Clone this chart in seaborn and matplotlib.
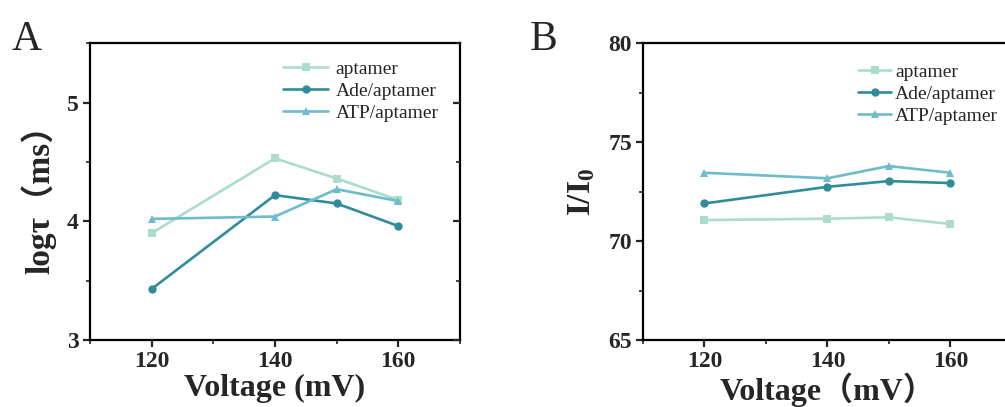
import pandas as pd
import seaborn as sns
import matplotlib.pyplot as plt
from matplotlib.ticker import MultipleLocator

voltage = [120, 140, 150, 160]
samples = ["aptamer", "Ade/aptamer", "ATP/aptamer"]

# panel A: log(dwell time)
logtau_aptamer = [3.90, 4.53, 4.36, 4.18]
logtau_ade = [3.43, 4.22, 4.15, 3.96]
logtau_atp = [4.02, 4.04, 4.27, 4.17]

# panel B: I/I0
ratio_aptamer = [71.06, 71.13, 71.20, 70.86]
ratio_ade = [71.90, 72.74, 73.03, 72.93]
ratio_atp = [73.45, 73.17, 73.79, 73.45]

colors = ["#acdccb", "#2f8c9b", "#6cbccb"]
markers = ["s", "o", "^"]

def long_df(a, b, c):
    rows = []
    for name, vals in zip(samples, [a, b, c]):
        for v, y in zip(voltage, vals):
            rows.append({"Voltage": v, "value": y, "sample": name})
    return pd.DataFrame(rows)

df_a = long_df(logtau_aptamer, logtau_ade, logtau_atp)
df_b = long_df(ratio_aptamer, ratio_ade, ratio_atp)

sns.set_style("ticks")
plt.rcParams["font.family"] = ["Liberation Serif", "Noto Sans CJK SC"]
plt.rcParams["mathtext.fontset"] = "custom"
plt.rcParams["mathtext.rm"] = "Liberation Serif"
plt.rcParams["mathtext.bf"] = "Liberation Serif:bold"

fig = plt.figure(figsize=(10.05, 4.07), dpi=100)
ax1 = fig.add_axes([0.0896, 0.1646, 0.368, 0.7294])
ax2 = fig.add_axes([0.6398, 0.1646, 0.367, 0.7294])

legend_opts = {
    ax1: dict(bbox_to_anchor=(0.99, 1.0), handlelength=2.3, handletextpad=0.4),
    ax2: dict(bbox_to_anchor=(1.01, 0.99), handlelength=1.7, handletextpad=0.2),
}

for ax, df in [(ax1, df_a), (ax2, df_b)]:
    sns.lineplot(data=df, x="Voltage", y="value", hue="sample", style="sample",
                 markers=markers, dashes=False, palette=colors, ax=ax,
                 linewidth=1.9, markersize=6, markeredgewidth=0)
    ax.set_xlim(110, 170)
    ax.xaxis.set_major_locator(MultipleLocator(20))
    ax.xaxis.set_minor_locator(MultipleLocator(10))
    for s in ax.spines.values():
        s.set_linewidth(1.6)
        s.set_color("black")
    ax.tick_params(which="major", length=5, width=1.6, labelsize=17, pad=3)
    ax.tick_params(which="minor", length=3, width=1.2)
    for lab in ax.get_xticklabels() + ax.get_yticklabels():
        lab.set_fontweight("bold")
    ax.legend(loc="upper right", frameon=False, fontsize=14,
              labelspacing=0.22, **legend_opts[ax])

ax1.set_ylim(3, 5.5)
ax1.yaxis.set_major_locator(MultipleLocator(1))
ax1.yaxis.set_minor_locator(MultipleLocator(0.5))
ax1.set_xlabel("Voltage (mV)", fontsize=23, fontweight="bold", labelpad=1)
ax1.set_ylabel("logτ（ms）", fontsize=24, fontweight="bold", labelpad=8)

# inward ticks on the right spine of panel A
ax1r = ax1.twinx()
ax1r.set_ylim(3, 5.5)
ax1r.yaxis.set_major_locator(MultipleLocator(1))
ax1r.yaxis.set_minor_locator(MultipleLocator(0.5))
ax1r.tick_params(which="major", direction="in", length=5, width=1.6, labelright=False)
ax1r.tick_params(which="minor", direction="in", length=3, width=1.2)
for s in ax1r.spines.values():
    s.set_visible(False)

ax2.set_ylim(65, 80)
ax2.yaxis.set_major_locator(MultipleLocator(5))
ax2.yaxis.set_minor_locator(MultipleLocator(2.5))
ax2.set_xlabel("Voltage（mV）", fontsize=23, fontweight="bold", labelpad=0)
ax2.set_ylabel(r"$\mathbf{I/I_0}$", fontsize=24, labelpad=8)

fig.text(0.012, 0.877, "A", fontsize=30)
fig.text(0.527, 0.877, "B", fontsize=30)

fig.savefig("out.png", dpi=100)
